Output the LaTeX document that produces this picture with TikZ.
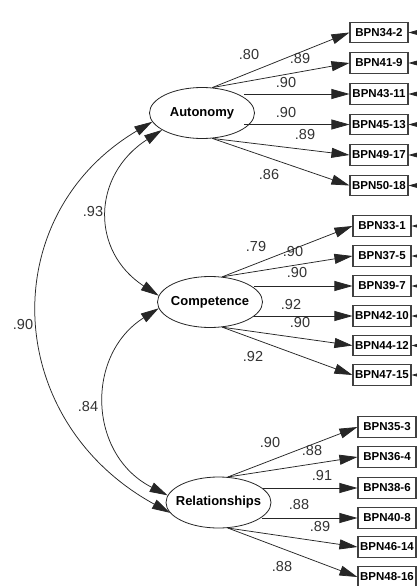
\documentclass[tikz,border=0pt]{standalone}
\usepackage{fontspec}
\setmainfont{Liberation Sans}
\usetikzlibrary{shapes.geometric,arrows.meta}
\tikzset{
  latent/.style={ellipse, draw=black!85, line width=0.8pt, fill=white, minimum width=105pt, minimum height=51pt, inner sep=0pt, font=\fontsize{13}{15}\selectfont\bfseries},
  obs/.style={rectangle, draw=black!75, line width=1.1pt, fill=white, minimum width=58pt, minimum height=20.5pt, inner sep=0pt, font=\fontsize{11.5}{13}\selectfont\bfseries},
  coef/.style={font=\fontsize{14.5}{16}\selectfont, text=black!80, inner sep=0pt},
  path/.style={draw=black!85, line width=0.75pt, -{Triangle[length=18pt,width=10pt]}},
  cov/.style={draw=black!85, line width=0.75pt, {Triangle[length=18pt,width=10pt]}-{Triangle[length=18pt,width=10pt]}},
}
\begin{document}
\begin{tikzpicture}[x=1pt,y=-1pt]
\useasboundingbox (0,0) rectangle (417,586);
\clip (0,0) rectangle (417,586);
\fill[white] (0,0) rectangle (417,586);

% latent variables
\node[latent] (aut) at (202,113) {\makebox[0pt]{Autonomy}};
\node[latent] (com) at (210,302) {\makebox[0pt]{Competence}};
\node[latent] (rel) at (218.5,502.5) {\makebox[0pt]{Relationships}};

% observed: Autonomy
\node[obs] (a1) at (379,32.5) {BPN34-2};
\node[obs] (a2) at (379,63) {BPN41-9};
\node[obs] (a3) at (379,94) {BPN43-11};
\node[obs] (a4) at (379,124.5) {BPN45-13};
\node[obs] (a5) at (379,155) {BPN49-17};
\node[obs] (a6) at (379,185.5) {BPN50-18};
% observed: Competence
\node[obs] (c1) at (382,226) {BPN33-1};
\node[obs] (c2) at (382,256) {BPN37-5};
\node[obs] (c3) at (382,286) {BPN39-7};
\node[obs] (c4) at (382,316) {BPN42-10};
\node[obs] (c5) at (382,345.5) {BPN44-12};
\node[obs] (c6) at (382,375) {BPN47-15};
% observed: Relationships
\node[obs] (r1) at (387,427) {BPN35-3};
\node[obs] (r2) at (387,457) {BPN36-4};
\node[obs] (r3) at (387,488) {BPN38-6};
\node[obs] (r4) at (387,518) {BPN40-8};
\node[obs] (r5) at (387,547) {BPN46-14};
\node[obs] (r6) at (387,577) {BPN48-16};

% loadings
\draw[path] (aut.68) -- (a1.west);
\draw[path] (aut.68) -- (a2.west);
\draw[path] (aut.20 |- a3.west) -- (a3.west);
\draw[path] (aut.-20 |- a4.west) -- (a4.west);
\draw[path] (aut.-68) -- (a5.west);
\draw[path] (aut.-68) -- (a6.west);

\draw[path] (com.64) -- (c1.west);
\draw[path] (com.64) -- (c2.west);
\draw[path] (com.18 |- c3.west) -- (c3.west);
\draw[path] (com.-18 |- c4.west) -- (c4.west);
\draw[path] (com.-64) -- (c5.west);
\draw[path] (com.-64) -- (c6.west);

\draw[path] (rel.70) -- (r1.west);
\draw[path] (rel.70) -- (r2.west);
\draw[path] (rel.17 |- r3.west) -- (r3.west);
\draw[path] (rel.-19 |- r4.west) -- (r4.west);
\draw[path] (rel.-70) -- (r5.west);
\draw[path] (rel.-70) -- (r6.west);

% error-term stubs entering from the right edge
\foreach \b in {a1,a2,a3,a4,a5,a6,c1,c2,c3,c4,c5,c6}{
  \coordinate (e\b) at ([xshift=30pt]\b.east);
  \draw[path] (e\b) -- (\b.east);
}

% covariances
\draw[cov] (aut.203) .. controls (92,175) and (90,251) .. (com.173);
\draw[cov] (com.187) .. controls (85,355) and (88,455) .. (rel.172);
\draw[cov] (aut.190) .. controls (-5,215) and (1,420) .. (rel.192);

% coefficients
\node[coef] (la1) at (249,55) {.80};
\node[coef] (la2) at (300,59) {.89};
\node[coef] (la3) at (286,83) {.90};
\node[coef] (la4) at (286,113) {.90};
\node[coef] (la5) at (305,135) {.89};
\node[coef] (la6) at (269,175) {.86};

\node[coef] (lc1) at (256,247) {.79};
\node[coef] (lc2) at (293,252) {.90};
\node[coef] (lc3) at (297,273) {.90};
\node[coef] (lc4) at (291,305) {.92};
\node[coef] (lc5) at (300,323) {.90};
\node[coef] (lc6) at (253,357) {.92};

\node[coef] (lr1) at (270,443) {.90};
\node[coef] (lr2) at (312,451) {.88};
\node[coef] (lr3) at (322,476) {.91};
\node[coef] (lr4) at (299,505) {.88};
\node[coef] (lr5) at (320,527) {.89};
\node[coef] (lr6) at (282,567) {.88};

\node[coef] (k1) at (93,212) {.93};
\node[coef] (k2) at (23,325) {.90};
\node[coef] (k3) at (88,407) {.84};
\end{tikzpicture}
\end{document}
